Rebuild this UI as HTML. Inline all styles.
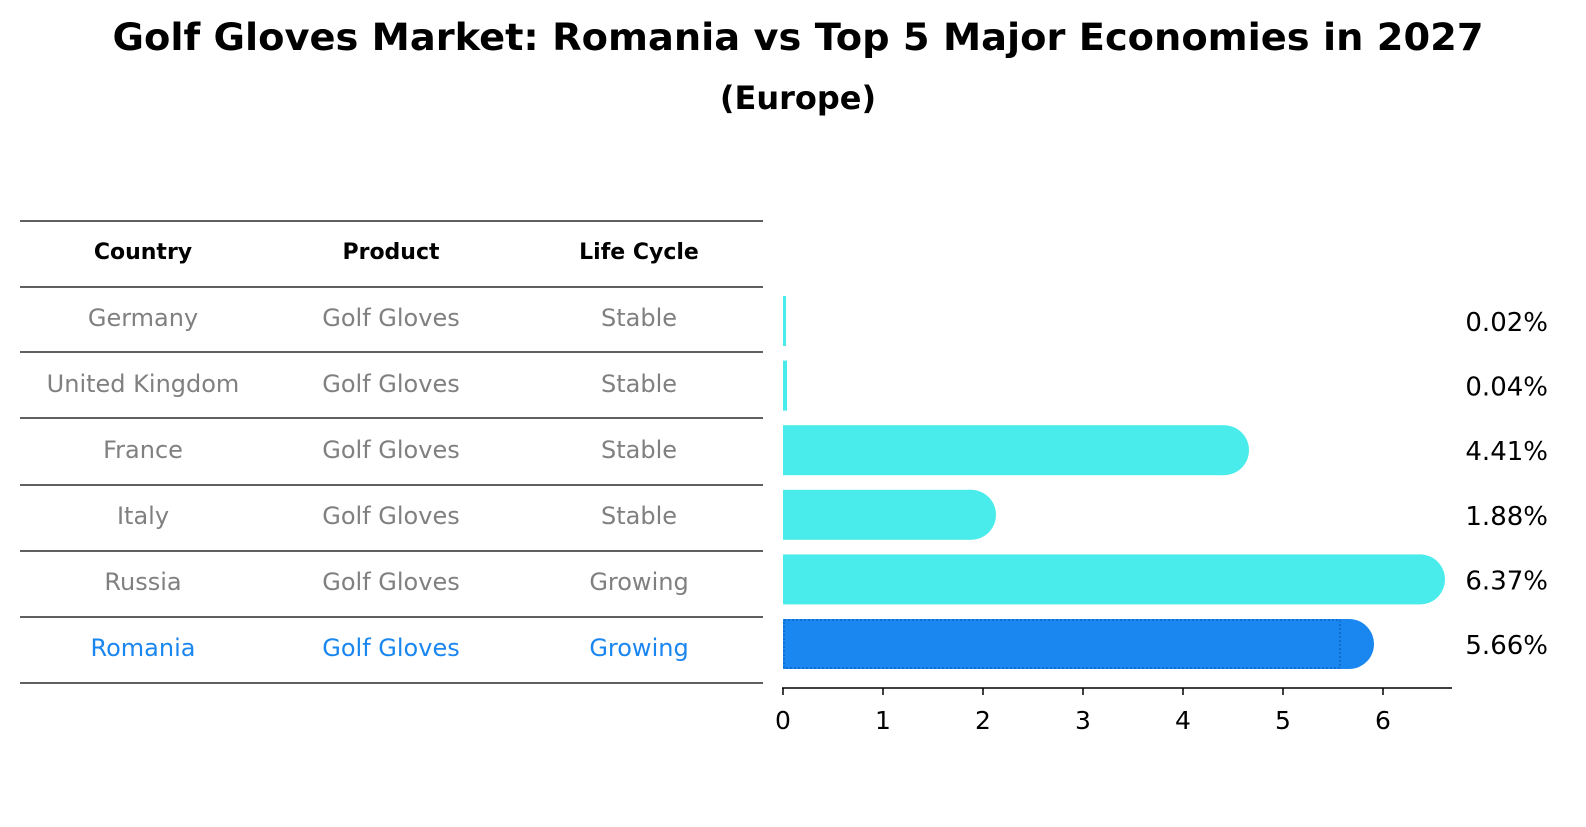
<!DOCTYPE html>
<html><head><meta charset="utf-8"><style>
body{margin:0;background:#fff;font-family:"DejaVu Sans","Liberation Sans",sans-serif}
svg text{font-family:"DejaVu Sans","Liberation Sans",sans-serif}
</style></head><body>
<svg id="chart" width="1586" height="823" xmlns="http://www.w3.org/2000/svg">
<text x="798" y="50" text-anchor="middle" font-size="37" font-weight="bold" textLength="1371" lengthAdjust="spacingAndGlyphs">Golf Gloves Market: Romania vs Top 5 Major Economies in 2027</text>
<text x="798" y="109" text-anchor="middle" font-size="32" font-weight="bold">(Europe)</text>
<g id="table"></g>
<g id="bars"></g>
</svg>
<script>
const countries=["Germany","United Kingdom","France","Italy","Russia","Romania"];
const products=["Golf Gloves","Golf Gloves","Golf Gloves","Golf Gloves","Golf Gloves","Golf Gloves"];
const lifeCycles=["Stable","Stable","Stable","Stable","Growing","Growing"];
const values=[0.02,0.04,4.41,1.88,6.37,5.66];
const valueLabels=["0.02%","0.04%","4.41%","1.88%","6.37%","5.66%"];
const ticks=[0,1,2,3,4,5,6];
const NS="http://www.w3.org/2000/svg";
function mk(tag,attrs,parent){const e=document.createElementNS(NS,tag);for(const k in attrs)e.setAttribute(k,attrs[k]);parent.appendChild(e);return e;}
const x=v=>783+v*100;
const rowY=i=>321+i*64.6;
const tbl=document.getElementById('table');
const lineYs=[221,287,352,418,485,551,617,683];
lineYs.forEach(y=>{const l=mk('line',{x1:20,x2:763,y1:y,y2:y,stroke:'#000','stroke-width':1.2},tbl);

});
const colX=[143,391,639];
["Country","Product","Life Cycle"].forEach((h,j)=>{const t=mk('text',{x:colX[j],y:259,'text-anchor':'middle','font-size':22,'font-weight':'bold'},tbl);t.textContent=h;

});
countries.forEach((c,i)=>{const col=i===5?'#1a86f0':'#808080';const y=[326,392,458,524,590,656][i];
[c,products[i],lifeCycles[i]].forEach((s,j)=>{const t=mk('text',{x:colX[j],y:y,'text-anchor':'middle','font-size':24,fill:col},tbl);t.textContent=s;

});});
const g=document.getElementById('bars');
values.forEach((v,i)=>{const cy=rowY(i);const col=i===5?'#1a86f0':'#4aeceb';
const w=x(v)-x(0);
const b=mk('g',{},g);


if(w<6){mk('rect',{x:x(0),y:cy-25,width:Math.max(w,3),height:50,fill:col},b);}
else{mk('rect',{x:x(0),y:cy-25,width:w,height:50,fill:col},b);mk('circle',{cx:x(v),cy:cy,r:25,fill:col},b);}
if(i===5){mk('rect',{x:x(0)+1,y:cy-24,width:w-10,height:48,fill:'none',stroke:'#0b6ac8','stroke-width':1.5,'stroke-dasharray':'2,2'},b);}
const t=mk('text',{x:1548,y:cy+10,'text-anchor':'end','font-size':26},g);t.textContent=valueLabels[i];

});
const ax=mk('line',{x1:782,x2:1452,y1:688,y2:688,stroke:'#000','stroke-width':1.5},g);


ticks.forEach(tv=>{mk('line',{x1:x(tv),x2:x(tv),y1:688,y2:695,stroke:'#000','stroke-width':1.5},g);
const t=mk('text',{x:x(tv),y:729,'text-anchor':'middle','font-size':25},g);t.textContent=tv;

});
</script>
</body></html>
